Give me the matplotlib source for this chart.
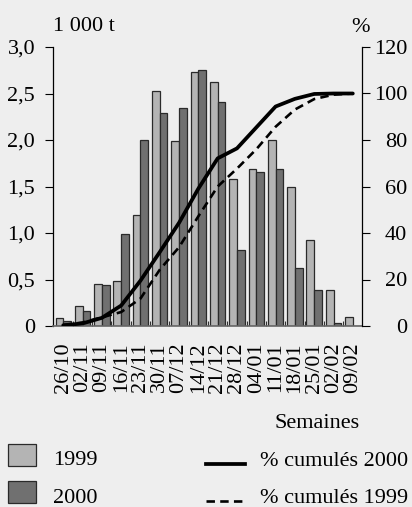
import matplotlib
matplotlib.use("Agg")
import matplotlib.pyplot as plt
import numpy as np
from matplotlib.patches import Rectangle
from matplotlib.lines import Line2D

# ---- data ----
weeks = ["26/10", "02/11", "09/11", "16/11", "23/11", "30/11", "07/12", "14/12",
         "21/12", "28/12", "04/01", "11/01", "18/01", "25/01", "02/02", "09/02"]
tonnes_1999 = [0.09, 0.21, 0.45, 0.48, 1.19, 2.53, 1.99, 2.73,
               2.62, 1.58, 1.69, 2.00, 1.50, 0.93, 0.39, 0.10]
tonnes_2000 = [0.05, 0.16, 0.44, 0.99, 2.00, 2.29, 2.34, 2.75,
               2.41, 0.82, 1.66, 1.69, 0.62, 0.39, 0.03, 0.00]
cum_2000 = [0.3, 1.1, 3.5, 8.8, 19.5, 31.8, 44.4, 59.1,
            72.1, 76.4, 85.4, 94.4, 97.7, 99.8, 100.0, 100.0]
cum_1999 = [0.4, 1.5, 3.7, 6.0, 11.8, 24.2, 33.9, 47.2,
            60.0, 67.7, 76.0, 85.7, 93.1, 97.6, 99.5, 100.0]
left_ticks = [0, 0.5, 1.0, 1.5, 2.0, 2.5, 3.0]
left_labels = ["0", "0,5", "1,0", "1,5", "2,0", "2,5", "3,0"]
right_ticks = [0, 20, 40, 60, 80, 100, 120]

W, H = 412, 507
BG = "#EEEEEE"
LIGHT = "#B4B4B4"
DARK = "#707070"
FONT = "Liberation Serif"
FS = 16

plt.rcParams["font.family"] = [FONT, "DejaVu Serif"]

fig = plt.figure(figsize=(W / 100, H / 100), dpi=100, facecolor=BG)

def fx(px):
    return px / W

def fy(py):
    return 1 - py / H

ax_left, ax_right, ax_top, ax_bot = 53, 361.5, 47, 326
ax = fig.add_axes([fx(ax_left), fy(ax_bot), fx(ax_right) - fx(ax_left), fy(ax_top) - fy(ax_bot)])
ax.set_facecolor(BG)

x = np.arange(len(weeks))
bw = 0.4
ax.bar(x - bw / 2, tonnes_1999, width=bw, color=LIGHT, edgecolor="#2a2a2a", linewidth=0.9, zorder=2)
ax.bar(x + bw / 2, tonnes_2000, width=bw, color=DARK, edgecolor="#2a2a2a", linewidth=0.9, zorder=2)

ax.set_xlim(-0.53, 15.45)
ax.set_ylim(0, 3.0)
ax.set_yticks(left_ticks)
ax.set_yticklabels(left_labels, fontsize=FS)
ax.tick_params(axis="y", direction="out", length=5.8, width=0.8, pad=7, colors="black")

ax.set_xticks(x)
ax.set_xticklabels(weeks, rotation=90, fontsize=FS, va="top", ha="center")
ax.tick_params(axis="x", which="major", length=0, pad=11.5)
ax.set_xticks(np.arange(0.5, 15, 1.0), minor=True)
ax.tick_params(axis="x", which="minor", direction="in", length=3.6, width=0.8, colors="#333333")

ax.spines["top"].set_visible(False)
ax.spines["left"].set_linewidth(0.9)
ax.spines["right"].set_visible(False)
ax.spines["bottom"].set_color("#666666")
ax.spines["bottom"].set_linewidth(1.2)

ax2 = ax.twinx()
ax2.set_ylim(0, 120)
ax2.set_yticks(right_ticks)
ax2.set_yticklabels([str(v) for v in right_ticks], fontsize=FS)
for lbl in ax2.get_yticklabels():
    lbl.set_horizontalalignment("right")
ax2.tick_params(axis="y", direction="out", length=5.8, width=0.8, pad=27, colors="black")
ax2.spines["top"].set_visible(False)
ax2.spines["left"].set_visible(False)
ax2.spines["bottom"].set_visible(False)
ax2.spines["right"].set_linewidth(0.9)

ax2.plot(x, cum_1999, color="black", linewidth=1.9, dashes=(3.2, 2.0), zorder=3)
ax2.plot(x, cum_2000, color="black", linewidth=2.7, solid_capstyle="round", zorder=4)

# ---- titles ----
fig.text(fx(53), fy(31), "1 000 t", fontsize=FS, ha="left", va="baseline")
fig.text(fx(360), fy(31.5), "%", fontsize=FS, ha="center", va="baseline")
fig.text(fx(360), fy(428), "Semaines", fontsize=FS, ha="right", va="baseline")

# ---- legend ----
def rect(px0, py0, px1, py1, color):
    r = Rectangle((fx(px0), fy(py1)), fx(px1) - fx(px0), fy(py0) - fy(py1),
                  transform=fig.transFigure, facecolor=color, edgecolor="#2a2a2a", linewidth=0.9)
    fig.patches.append(r)

rect(8, 443.5, 36, 466, LIGHT)
rect(8, 480.5, 36, 503, DARK)
fig.text(fx(53), fy(465), "1999", fontsize=FS, ha="left", va="baseline")
fig.text(fx(53), fy(503), "2000", fontsize=FS, ha="left", va="baseline")

l1 = Line2D([fx(206), fx(245)], [fy(464.3), fy(464.3)], transform=fig.transFigure,
            color="black", linewidth=2.7)
l2 = Line2D([fx(206), fx(245)], [fy(500.7), fy(500.7)], transform=fig.transFigure,
            color="black", linewidth=1.9, dashes=(3.2, 2.0))
fig.lines.extend([l1, l2])
fig.text(fx(260), fy(466), "% cumulés 2000", fontsize=FS, ha="left", va="baseline")
fig.text(fx(260), fy(503), "% cumulés 1999", fontsize=FS, ha="left", va="baseline")

fig.savefig("out.png", dpi=100, facecolor=BG)
